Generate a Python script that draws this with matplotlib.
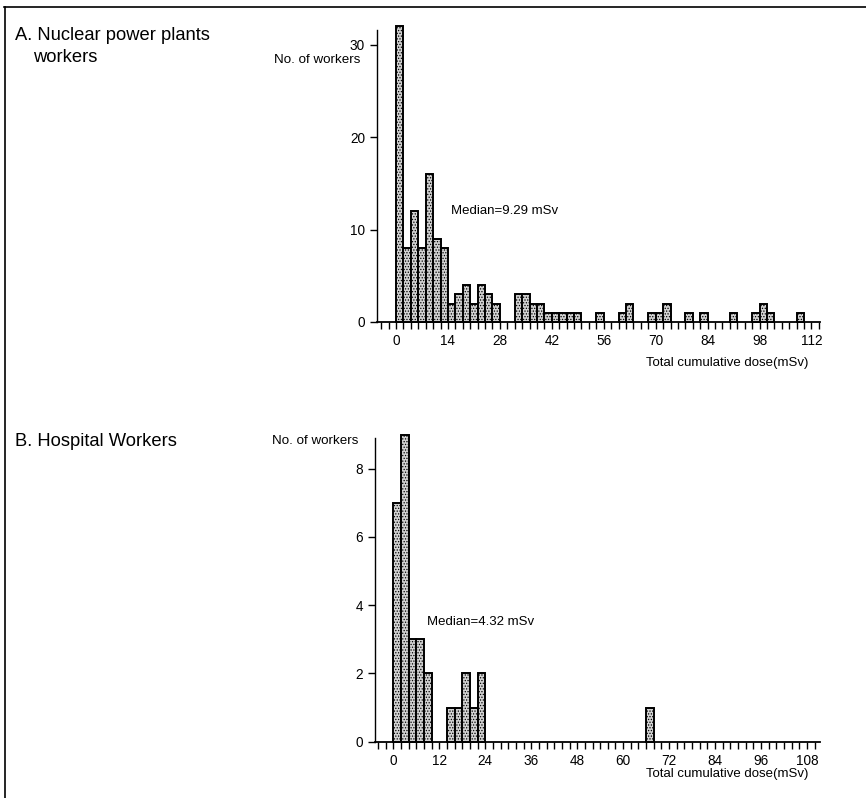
import matplotlib
matplotlib.use('Agg')
import matplotlib.pyplot as plt
from matplotlib.lines import Line2D
from matplotlib.ticker import MultipleLocator

plt.rcParams['font.family'] = ['Liberation Sans', 'DejaVu Sans']
plt.rcParams['hatch.color'] = '#9a9a9a'
plt.rcParams['hatch.linewidth'] = 0.6

# A. Nuclear power plant workers: left edge of each 2 mSv bin and number of workers
npp_bins = [0, 2, 4, 6, 8, 10, 12, 14, 16, 18, 20, 22, 24, 26,
            32, 34, 36, 38, 40, 42, 44, 46, 48,
            54, 60, 62, 68, 70, 72, 78, 82, 90, 96, 98, 100, 108]
npp_counts = [32, 8, 12, 8, 16, 9, 8, 2, 3, 4, 2, 4, 3, 2,
              3, 3, 2, 2, 1, 1, 1, 1, 1,
              1, 1, 2, 1, 1, 2, 1, 1, 1, 1, 2, 1, 1]
npp_median = 'Median=9.29 mSv'

# B. Hospital workers
hosp_bins = [0, 2, 4, 6, 8, 14, 16, 18, 20, 22, 66]
hosp_counts = [7, 9, 3, 3, 2, 1, 1, 2, 1, 2, 1]
hosp_median = 'Median=4.32 mSv'

W, H = 866, 798
fig = plt.figure(figsize=(W / 100, H / 100), dpi=100)


def px(x, y):
    return x / W, 1 - y / H


def panel(rect, bins, counts, xlim, ylim, xmajor, yticks, xmax_tick, median, mpos):
    ax = fig.add_axes(rect)
    ax.bar(bins, counts, width=2, align='edge', facecolor='#d2d2d2', hatch='......',
           edgecolor='black', linewidth=1.4, clip_on=False, zorder=3)
    ax.set_xlim(*xlim)
    ax.set_ylim(*ylim)
    ax.set_xticks(range(0, xmax_tick + 1, xmajor))
    ax.xaxis.set_minor_locator(MultipleLocator(2))
    ax.set_yticks(yticks)
    for s in ('top', 'right'):
        ax.spines[s].set_visible(False)
    ax.spines['left'].set_linewidth(1.0)
    ax.spines['bottom'].set_linewidth(1.3)
    ax.tick_params(which='both', direction='out', length=5, width=1.0, labelsize=9.8)
    ax.tick_params(axis='x', which='minor', length=5, width=1.0)
    ax.patch.set_alpha(0)
    ax.text(mpos[0], mpos[1], median, fontsize=9.5, va='center', ha='left')
    return ax


panel([376.7 / W, 1 - 322 / H, (820 - 376.7) / W, (322 - 30) / H],
      npp_bins, npp_counts, (-5.2, 114.3), (0, 31.6), 14, [0, 10, 20, 30], 112,
      npp_median, (14.7, 12))
panel([375 / W, 1 - 741.7 / H, (820 - 375) / W, (741.7 - 438) / H],
      hosp_bins, hosp_counts, (-4.8, 111.4), (0, 8.9), 12, [0, 2, 4, 6, 8], 108,
      hosp_median, (8.7, 3.5))

# panel titles and axis captions
fig.text(*px(15, 36), 'A. Nuclear power plants', fontsize=13.2, va='center')
fig.text(*px(33, 58), 'workers', fontsize=13.2, va='center')
fig.text(*px(15, 441), 'B. Hospital Workers', fontsize=13.2, va='center')
fig.text(*px(360, 60), 'No. of workers', fontsize=9.6, ha='right', va='center')
fig.text(*px(358, 441), 'No. of workers', fontsize=9.6, ha='right', va='center')
fig.text(*px(808, 363), 'Total cumulative dose(mSv)', fontsize=9.5, ha='right', va='center')
fig.text(*px(808, 774), 'Total cumulative dose(mSv)', fontsize=9.5, ha='right', va='center')

# frame lines of the scanned figure
fig.add_artist(Line2D([0.005, 1], [1 - 7 / H, 1 - 7 / H], color='black', lw=1.2))
fig.add_artist(Line2D([5 / W, 5 / W], [0, 1 - 7 / H], color='black', lw=1.2))

fig.savefig('out.png', dpi=100)
